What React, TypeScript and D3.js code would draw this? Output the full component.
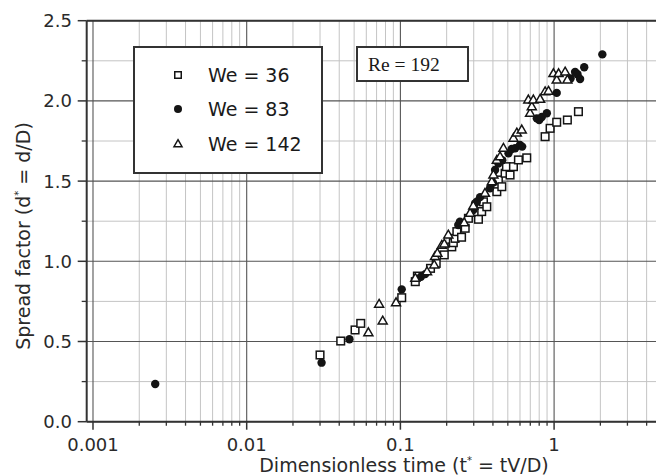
import React from "react";
import * as d3 from "d3";

// ---- data (t* = tV/D, d* = d/D) ----
const we36T = [0.030, 0.0409, 0.0507, 0.0552, 0.102, 0.125, 0.129, 0.157, 0.171, 0.193, 0.216, 0.221, 0.227, 0.233, 0.25, 0.264, 0.277, 0.322, 0.338, 0.347, 0.365, 0.424, 0.434, 0.457, 0.48, 0.49, 0.517, 0.544, 0.586, 0.664, 0.874, 0.942, 1.04, 1.22, 1.44];
const we36D = [0.416, 0.503, 0.572, 0.613, 0.773, 0.873, 0.908, 0.956, 0.987, 1.04, 1.09, 1.116, 1.143, 1.185, 1.15, 1.206, 1.268, 1.262, 1.31, 1.371, 1.34, 1.434, 1.507, 1.465, 1.549, 1.59, 1.538, 1.59, 1.632, 1.645, 1.777, 1.829, 1.867, 1.881, 1.933];

const we83T = [0.00254, 0.0307, 0.0466, 0.102, 0.136, 0.145, 0.238, 0.244, 0.298, 0.306, 0.314, 0.330, 0.383, 0.40, 0.413, 0.434, 0.46, 0.505, 0.53, 0.558, 0.60, 0.62, 0.772, 0.80, 0.832, 0.897, 1.04, 1.28, 1.37, 1.42, 1.476, 1.57, 2.06];
const we83D = [0.235, 0.368, 0.514, 0.825, 0.904, 0.92, 1.226, 1.247, 1.32, 1.36, 1.372, 1.40, 1.455, 1.49, 1.569, 1.61, 1.63, 1.673, 1.70, 1.705, 1.725, 1.715, 1.891, 1.88, 1.90, 1.923, 2.05, 2.14, 2.18, 2.166, 2.137, 2.21, 2.29];

const we142T = [0.0619, 0.0727, 0.0767, 0.0937, 0.125, 0.149, 0.166, 0.168, 0.174, 0.186, 0.193, 0.205, 0.26, 0.284, 0.298, 0.355, 0.393, 0.403, 0.424, 0.445, 0.468, 0.544, 0.572, 0.616, 0.68, 0.698, 0.716, 0.733, 0.811, 0.874, 0.92, 0.99, 1.04, 1.07, 1.18, 1.22];
const we142D = [0.555, 0.732, 0.628, 0.742, 0.894, 0.935, 0.977, 1.03, 1.05, 1.10, 1.108, 1.164, 1.24, 1.30, 1.345, 1.424, 1.496, 1.538, 1.63, 1.652, 1.705, 1.767, 1.80, 1.819, 2.006, 1.923, 1.964, 2.006, 2.01, 2.057, 2.06, 2.17, 2.13, 2.17, 2.18, 2.13];

const legendLabels = ["We = 36", "We = 83", "We = 142"];
const xMajorTicks = [0.001, 0.01, 0.1, 1, 10];
const xTickLabels = ["0.001", "0.01", "0.1", "1"];
const yMajorTicks = [0, 0.5, 1.0, 1.5, 2.0, 2.5];
const yTickLabels = ["0.0", "0.5", "1.0", "1.5", "2.0", "2.5"];
const yMinorTicks = [0.25, 0.75, 1.25, 1.75, 2.25];
const reLabel = "Re = 192";

const W = 656, H = 476;
const L = 86.7, T = 20.7, B = 421.7, DEC = 153.7;
const XMIN = 0.00091, XMAX = 10;

export default function App() {
  const x = d3.scaleLog().domain([XMIN, XMAX]).range([L, L + DEC * Math.log10(XMAX / XMIN)]);
  const y = d3.scaleLinear().domain([0, 2.5]).range([B, T]);
  const R = x.range()[1];

  const xMinor: number[] = [];
  for (let e = -3; e <= 0; e++) for (let k = 2; k <= 9; k++) xMinor.push(k * Math.pow(10, e));

  const font = "'DejaVu Sans', sans-serif";
  const ink = "#141414";

  const sq = (cx: number, cy: number, key: any, s = 7.6) => (
    <rect key={key} x={cx - s / 2} y={cy - s / 2} width={s} height={s} fill="#fff" stroke={ink} strokeWidth={1.5} />
  );
  const ci = (cx: number, cy: number, key: any, r = 4.2) => (
    <circle key={key} cx={cx} cy={cy} r={r} fill={ink} />
  );
  const tri = (cx: number, cy: number, key: any, s = 9) => {
    const h = s * 0.866;
    const p = d3.path();
    p.moveTo(cx, cy - h * 0.62);
    p.lineTo(cx + s / 2, cy + h * 0.38);
    p.lineTo(cx - s / 2, cy + h * 0.38);
    p.closePath();
    return <path key={key} d={p.toString()} fill="#fff" stroke={ink} strokeWidth={1.5} strokeLinejoin="miter" />;
  };

  return (
    <div style={{ position: "absolute", left: 0, top: 0, width: W, height: H, background: "#fff" }}>
      <svg width={W} height={H} style={{ display: "block" }}>
        <rect x={0} y={0} width={W} height={H} fill="#fff" />
        {/* minor grid */}
        {xMinor.map((v, i) => (
          <line key={"xm" + i} x1={x(v)} x2={x(v)} y1={T} y2={B} stroke="#c4c4c4" strokeWidth={1} />
        ))}
        {yMinorTicks.map((v, i) => (
          <line key={"ym" + i} x1={L} x2={R} y1={y(v)} y2={y(v)} stroke="#c4c4c4" strokeWidth={1} />
        ))}
        {/* major grid */}
        {xMajorTicks.map((v, i) => (
          <line key={"xg" + i} x1={x(v)} x2={x(v)} y1={T} y2={B} stroke="#555" strokeWidth={1.1} />
        ))}
        {yMajorTicks.map((v, i) => (
          <line key={"yg" + i} x1={L} x2={R} y1={y(v)} y2={y(v)} stroke="#555" strokeWidth={1.1} />
        ))}
        {/* frame */}
        <line x1={L} x2={R} y1={T} y2={T} stroke="#333" strokeWidth={2} />
        <line x1={L} x2={R} y1={B} y2={B} stroke="#333" strokeWidth={2} />
        <line x1={L} x2={L} y1={T} y2={B} stroke="#333" strokeWidth={2} />
        <line x1={R} x2={R} y1={T} y2={B} stroke="#333" strokeWidth={2} />
        {/* ticks */}
        {xMajorTicks.map((v, i) => (
          <line key={"xt" + i} x1={x(v)} x2={x(v)} y1={B} y2={B + 8} stroke="#333" strokeWidth={1.5} />
        ))}
        {xMinor.map((v, i) => (
          <line key={"xmt" + i} x1={x(v)} x2={x(v)} y1={B} y2={B + 4} stroke="#333" strokeWidth={1.3} />
        ))}
        {yMajorTicks.map((v, i) => (
          <line key={"yt" + i} x1={L - 9} x2={L} y1={y(v)} y2={y(v)} stroke="#333" strokeWidth={1.5} />
        ))}
        {yMinorTicks.map((v, i) => (
          <line key={"ymt" + i} x1={L - 5} x2={L} y1={y(v)} y2={y(v)} stroke="#333" strokeWidth={1.3} />
        ))}
        {/* tick labels */}
        {xTickLabels.map((s, i) => (
          <text key={"xl" + i} x={x(xMajorTicks[i])} y={450.5} textAnchor="middle" fontFamily={font} fontSize={18} fill="#2a2a2a">
            {s}
          </text>
        ))}
        {yMajorTicks.map((v, i) => (
          <text key={"yl" + i} x={72} y={y(v)} dy="0.36em" textAnchor="end" fontFamily={font} fontSize={18} fill="#2a2a2a">
            {yTickLabels[i]}
          </text>
        ))}
        {/* axis titles */}
        <text x={404} y={472} textAnchor="middle" fontFamily={font} fontSize={19} fill="#2a2a2a">
          Dimensionless time (t<tspan fontSize={10} dy={-8}>*</tspan><tspan dy={8}> = tV/D)</tspan>
        </text>
        <text transform="translate(30,236) rotate(-90)" textAnchor="middle" fontFamily={font} fontSize={19} fill="#2a2a2a">
          Spread factor (d<tspan fontSize={10} dy={-8}>*</tspan><tspan dy={8}> = d/D)</tspan>
        </text>
        {/* data */}
        <g>
          {we36T.map((t, i) => sq(x(t), y(we36D[i]), "s" + i))}
          {we83T.map((t, i) => ci(x(t), y(we83D[i]), "c" + i))}
          {we142T.map((t, i) => tri(x(t), y(we142D[i]), "t" + i))}
        </g>
        {/* legend */}
        <rect x={134} y={47} width={188} height={126} fill="#fff" stroke="#333" strokeWidth={2} />
        {sq(178, 75, "ls", 6.5)}
        {ci(178, 109, "lc", 4)}
        {tri(178, 144, "lt", 8)}
        {legendLabels.map((s, i) => (
          <text key={"lg" + i} x={208} y={[75, 109, 144][i]} dy="0.36em" fontFamily={font} fontSize={19} fill="#1a1a1a">
            {s}
          </text>
        ))}
        {/* Re box */}
        <rect x={357} y={47} width={111} height={34} fill="#fff" stroke="#333" strokeWidth={2} />
        <text x={368} y={71} fontFamily="'Liberation Serif', 'Times New Roman', serif" fontSize={19.5} fill="#1a1a1a">
          {reLabel}
        </text>
      </svg>
    </div>
  );
}
